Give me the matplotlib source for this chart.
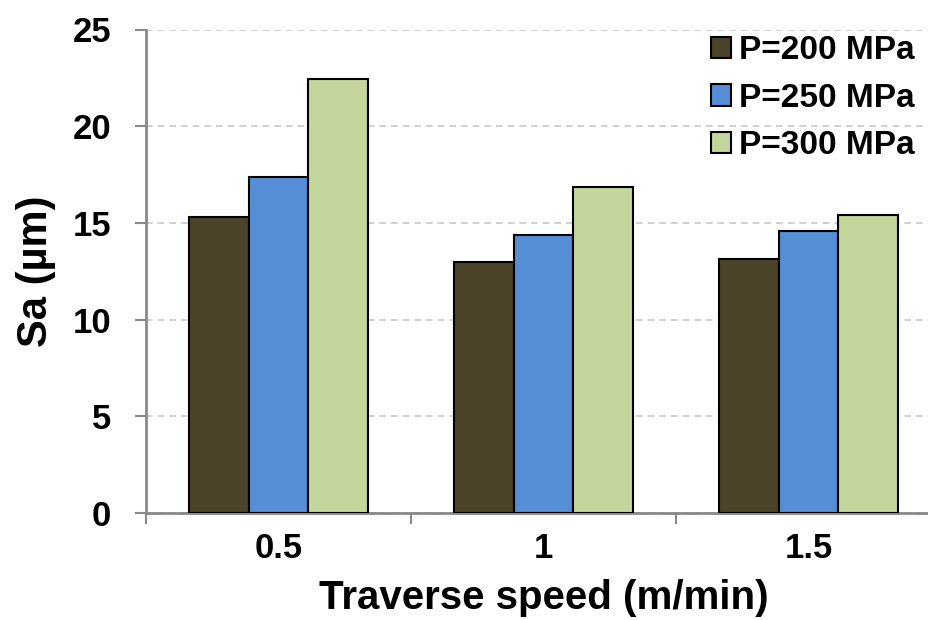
import matplotlib.pyplot as plt
import numpy as np

speeds = ['0.5', '1', '1.5']
labels = ['P=200 MPa', 'P=250 MPa', 'P=300 MPa']
sa_200 = [15.3, 13.0, 13.15]
sa_250 = [17.35, 14.37, 14.6]
sa_300 = [22.45, 16.87, 15.43]
colors = ['#4b4328', '#558ed5', '#c3d69b']

plt.rcParams['font.family'] = ['Liberation Sans', 'DejaVu Sans']
plt.rcParams['font.weight'] = 'bold'

fig = plt.figure(figsize=(9.29, 6.2), dpi=100)
ax = fig.add_axes([146 / 929, 1 - 513 / 620, 795 / 929, (513 - 29.5) / 620])

x = np.arange(len(speeds))
w = 0.226
for i, (vals, lab) in enumerate(zip([sa_200, sa_250, sa_300], labels)):
    ax.bar(x + (i - 1) * w, vals, w, color=colors[i], edgecolor='black',
           linewidth=1.5, label=lab, zorder=3)

ax.set_xlim(-0.5, 2.5)
ax.set_ylim(0, 25)
ax.set_yticks([0, 5, 10, 15, 20, 25])
ax.yaxis.grid(True, linestyle=(0, (4, 3)), color='#c8c8c8', linewidth=1.2, zorder=0)

# category labels at centres, tick marks at boundaries
ax.set_xticks(x)
ax.set_xticklabels(speeds)
ax.set_xticks([-0.5, 0.5, 1.5, 2.5], minor=True)
ax.tick_params(axis='x', which='major', length=0, pad=14, labelsize=25)
ax.tick_params(axis='x', which='minor', length=8, width=1.5, color='#888888', direction='out')
ax.tick_params(axis='y', length=8, width=1.5, color='#888888', pad=17, labelsize=25)

for s in ['top', 'right']:
    ax.spines[s].set_visible(False)
for s in ['left', 'bottom']:
    ax.spines[s].set_color('#888888')
    ax.spines[s].set_linewidth(2)

ax.set_xlabel('Traverse speed (m/min)', fontsize=29, fontweight='bold', labelpad=10)
ax.set_ylabel('Sa (µm)', fontsize=30, fontweight='bold', labelpad=12)

fig.legend(loc='upper right', bbox_to_anchor=(915 / 929, 1 - 35 / 620),
           frameon=False, fontsize=24, handlelength=0.6, handleheight=0.6,
           handletextpad=0.25, labelspacing=0.5, borderpad=0, borderaxespad=0)

fig.savefig('out.png', dpi=100)
